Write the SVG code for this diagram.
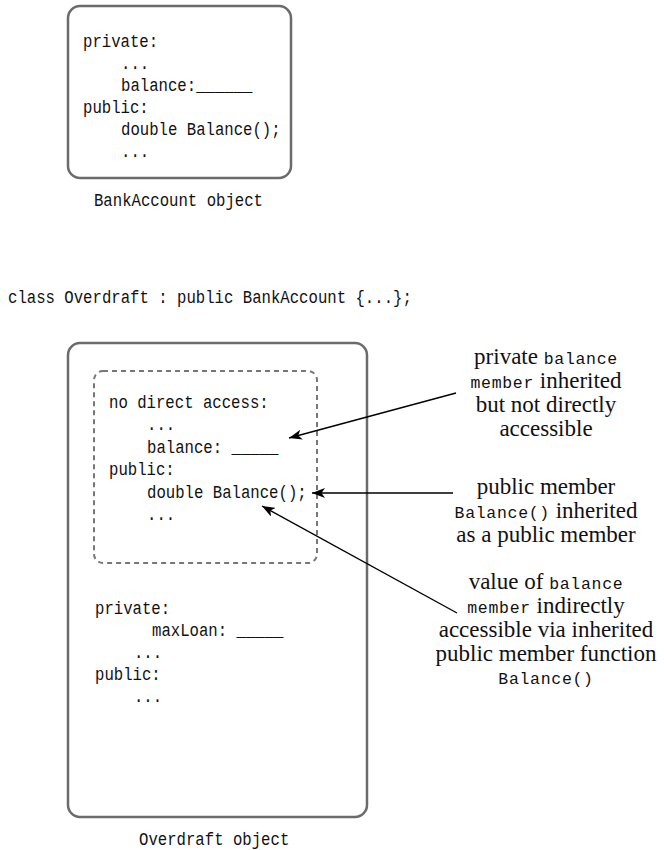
<svg xmlns="http://www.w3.org/2000/svg" width="664" height="850" viewBox="0 0 664 850">
<style>
.box{fill:none;stroke:#6b6b6b;stroke-width:2.5}
.dash{fill:none;stroke:#777;stroke-width:2;stroke-dasharray:5 4}
.code{font-family:"Liberation Mono","DejaVu Sans Mono",monospace;font-size:18px;fill:#111}
.note{font-family:"Liberation Serif","Times New Roman",serif;font-size:23px;fill:#111;text-anchor:middle}
.nm{font-family:"Liberation Mono","DejaVu Sans Mono",monospace;font-size:16.5px;letter-spacing:0.7px}
.conn{stroke:#000;stroke-width:1.4;fill:none;marker-end:url(#ah)}
</style>
<defs>
<marker id="ah" markerUnits="userSpaceOnUse" markerWidth="14" markerHeight="10" refX="13" refY="5" orient="auto">
<path d="M0,0 L13,5 L0,10 L3.5,5 Z" fill="#000"/>
</marker>
</defs>
<rect width="664" height="850" fill="#fff"/>
<g id="bankaccount">
<rect class="box" x="68" y="6" width="223" height="172" rx="12"/>
<g transform="scale(0.87 1)">
<text class="code" x="95.4" y="47">private:</text>
<text class="code" x="139.1" y="69">...</text>
<text class="code" x="139.1" y="91">balance:______</text>
<text class="code" x="95.4" y="113">public:</text>
<text class="code" x="139.1" y="135">double Balance();</text>
<text class="code" x="139.1" y="157">...</text>
<text class="code" x="108" y="206">BankAccount object</text>
</g>
</g>
<g id="classline">
<text class="code" x="9.2" y="303" transform="scale(0.87 1)">class Overdraft : public BankAccount {...};</text>
</g>
<g id="overdraft">
<rect class="box" x="68" y="343" width="299" height="474" rx="12"/>
<g id="inherited">
<rect class="dash" x="94" y="371" width="223" height="192" rx="9"/>
<g transform="scale(0.87 1)">
<text class="code" x="125.3" y="408">no direct access:</text>
<text class="code" x="169" y="430.5">...</text>
<text class="code" x="169" y="453">balance: _____</text>
<text class="code" x="125.3" y="475.5">public:</text>
<text class="code" x="169" y="498">double Balance();</text>
<text class="code" x="169" y="520.5">...</text>
</g>
</g>
<g transform="scale(0.87 1)">
<text class="code" x="109.2" y="614">private:</text>
<text class="code" x="174.7" y="636">maxLoan: _____</text>
<text class="code" x="154" y="658">...</text>
<text class="code" x="109.2" y="680">public:</text>
<text class="code" x="154" y="702">...</text>
<text class="code" x="159.8" y="845">Overdraft object</text>
</g>
</g>
<g id="note1">
<text class="note" x="546" y="364">private <tspan class="nm">balance</tspan></text>
<text class="note" x="546" y="388"><tspan class="nm">member</tspan> inherited</text>
<text class="note" x="546" y="412">but not directly</text>
<text class="note" x="546" y="436">accessible</text>
</g>
<g id="note2">
<text class="note" x="546" y="494">public member</text>
<text class="note" x="546" y="518"><tspan class="nm">Balance()</tspan> inherited</text>
<text class="note" x="546" y="542">as a public member</text>
</g>
<g id="note3">
<text class="note" x="546" y="589">value of <tspan class="nm">balance</tspan></text>
<text class="note" x="546" y="613"><tspan class="nm">member</tspan> indirectly</text>
<text class="note" x="546" y="637">accessible via inherited</text>
<text class="note" x="546" y="661">public member function</text>
<text class="note" x="546" y="684"><tspan class="nm">Balance()</tspan></text>
</g>
<g id="connectors">
<line class="conn" x1="456" y1="393" x2="289" y2="438"/>
<line class="conn" x1="453" y1="493" x2="312" y2="493"/>
<line class="conn" x1="457" y1="613" x2="262" y2="506"/>
</g>
</svg>
